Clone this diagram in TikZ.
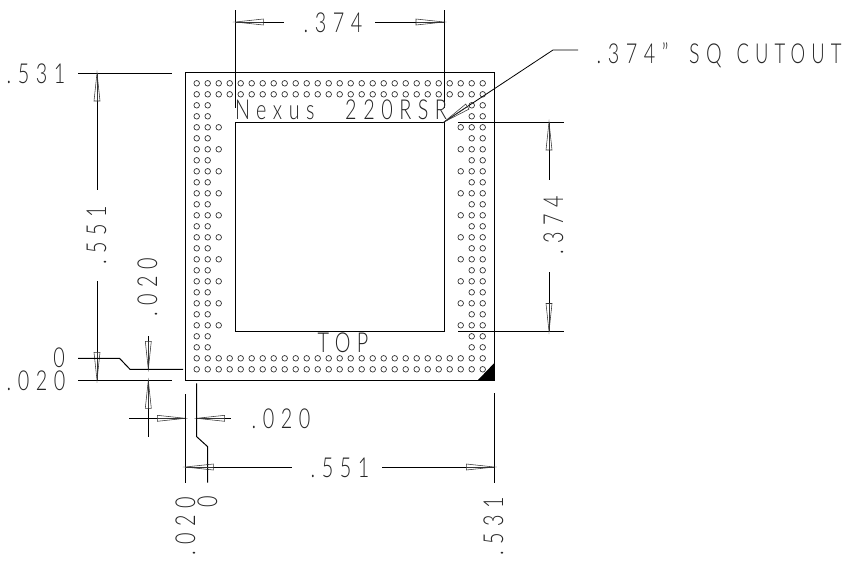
\documentclass[tikz,border=0pt]{standalone}
\usepackage{fontspec}
\setmainfont[LetterSpace=33,UprightFont={* Light}]{Lato}
\newcommand{\cad}[1]{\scalebox{0.72}[1]{\fontsize{27.5}{27.5}\selectfont #1}}
\tikzset{
  x=1pt,y=-1pt,
  cadline/.style={line width=1pt,black},
  thinline/.style={line width=0.55pt,black!80},
  ball/.style={line width=0.7pt,black!80},
  label/.style={inner sep=0pt,outer sep=0pt,black!85,anchor=base},
  dimarrow/.pic={
    \draw[thinline] (0,0) -- (28,3) -- (28,-3) -- cycle;
    \draw[thinline] (0,0) -- (28,0);
  }
}
\begin{document}
\begin{tikzpicture}
\useasboundingbox (0,0) rectangle (848,563);
\fill[white] (0,0) rectangle (848,563);
% balls
\foreach \r in {0,1,25,26}{\foreach \c in {0,...,26}{\draw[ball] ({196.7+11*\c},{83.3+11*\r}) circle[radius=2.8];}}
\foreach \r in {2,...,24}{\foreach \c in {0,1,25,26}{\draw[ball] ({196.7+11*\c},{83.3+11*\r}) circle[radius=2.8];}}
\foreach \r in {4,6,...,22}{\foreach \c in {2,24}{\draw[ball] ({196.7+11*\c},{83.3+11*\r}) circle[radius=2.8];}}
% body
\draw[cadline] (185.3,72.7) rectangle (494.3,380.3);
\draw[cadline] (235.3,122) rectangle (444,331.5);
\fill[black] (477.7,380.3) -- (494.3,363) -- (494.3,380.3) -- cycle;
% top dim
\draw[cadline] (235.3,10) -- (235.3,108);
\draw[cadline] (444,10) -- (444,108);
\draw[cadline] (235.3,22) -- (284,22);
\draw[cadline] (375,22) -- (444,22);
\pic at (235.3,22) {dimarrow};
\pic[rotate=180] at (444,22) {dimarrow};
% right dim
\draw[cadline] (458,122) -- (564,122);
\draw[cadline] (458,331.5) -- (564,331.5);
\draw[cadline] (549,122) -- (549,180);
\draw[cadline] (549,272) -- (549,331.5);
\pic[rotate=-90] at (549,122) {dimarrow};
\pic[rotate=90] at (549,331.5) {dimarrow};
% leader
\draw[line width=0.8pt,black] (444,122) -- (553,50) -- (578,50);
\pic[rotate=33.4] at (444,122) {dimarrow};
% left dim
\draw[cadline] (78,73) -- (172,73);
\draw[cadline] (78,380.3) -- (172,380.3);
\draw[cadline] (97,73) -- (97,190);
\draw[cadline] (97,281) -- (97,380.3);
\pic[rotate=-90] at (97,73) {dimarrow};
\pic[rotate=90] at (97,380.3) {dimarrow};
% zero leader
\draw[cadline] (78,358.3) -- (119.5,358.3) -- (130,369.3) -- (183,369.3);
% .020 vertical
\draw[cadline] (148.3,336) -- (148.3,369.3);
\draw[cadline] (148.3,380.3) -- (148.3,436.7);
\pic[rotate=90] at (148.3,369.3) {dimarrow};
\pic[rotate=-90] at (148.3,380.3) {dimarrow};
% .020 horizontal
\draw[cadline] (129,418.3) -- (185.3,418.3);
\draw[cadline] (196.7,418.3) -- (231.3,418.3);
\pic[rotate=180] at (185.3,418.3) {dimarrow};
\pic at (196.7,418.3) {dimarrow};
% bottom extensions
\draw[cadline] (185.3,394.3) -- (185.3,483.3);
\draw[cadline] (196.7,383.3) -- (196.7,436.7) -- (207.7,446.7) -- (207.7,482.7);
\draw[cadline] (494.3,393) -- (494.3,483.3);
% .551 bottom
\draw[cadline] (185.3,467) -- (292,467);
\draw[cadline] (382,467) -- (494.3,467);
\pic at (185.3,467) {dimarrow};
\pic[rotate=180] at (494.3,467) {dimarrow};
% labels
\node[label] (t374) at (333,32) {\cad{.374}};
\node[label] (lcut) at (719,63) {\cad{.374"\hspace{12pt} SQ\hspace{4pt} \scalebox{0.93}[1]{CUTOUT}}};
\node[label] (l531) at (36,83) {\cad{.531}};
\node[label,rotate=90] (v551) at (106,235) {\cad{.551}};
\node[label,rotate=90] (v020) at (157,287) {\cad{.020}};
\node[label,rotate=90] (r374) at (563,225) {\cad{.374}};
\node[label] (zero) at (59,367) {\cad{0}};
\node[label] (l020) at (36,390) {\cad{.020}};
\node[label] (h020) at (281,428) {\cad{.020}};
\node[label] (b551) at (340,477) {\cad{.551}};
\node[label,rotate=90] (b020) at (195,526) {\cad{.020}};
\node[label,rotate=90] (bzero) at (217,502) {\cad{0}};
\node[label,rotate=90] (b531) at (503,526) {\cad{.531}};
\node[label] (nexus) at (341,119) {\cad{Nexus\hspace{26pt} 220RSR}};
\node[label] (top) at (343,352) {\cad{TOP}};
\end{tikzpicture}
\end{document}
